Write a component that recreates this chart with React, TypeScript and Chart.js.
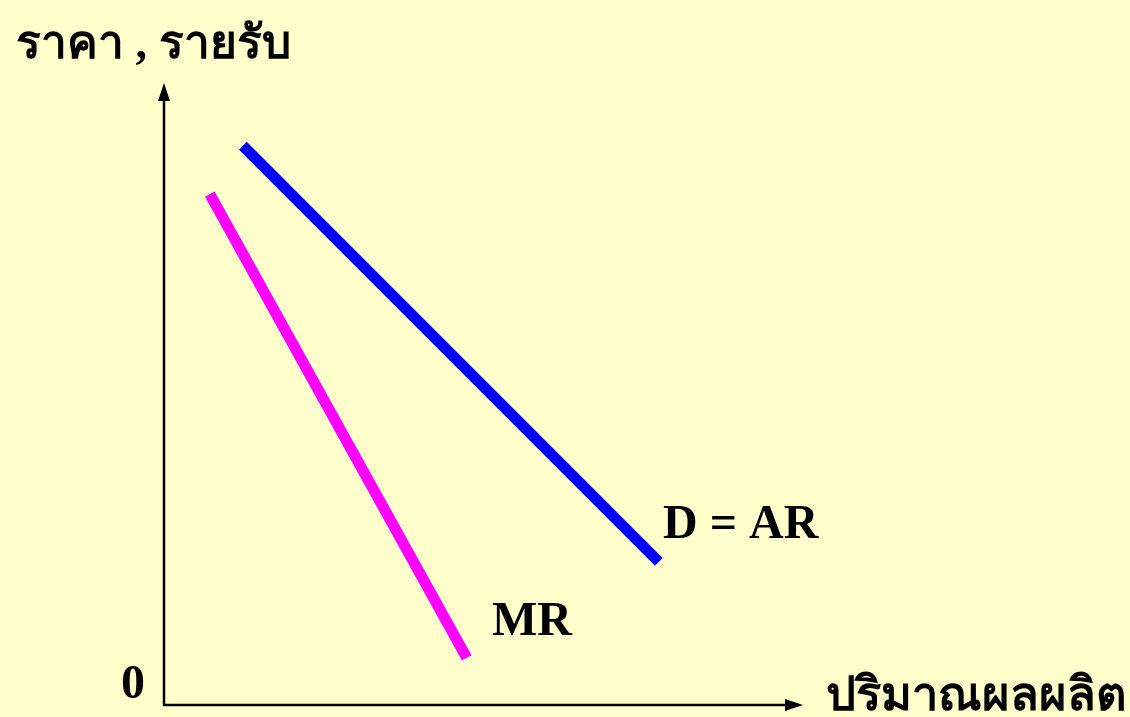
import React, { useEffect, useRef } from "react";
import { Chart, registerables } from "chart.js";

Chart.register(...registerables);

const demandX = [12.4, 77.8];
const demandY = [90.2, 23.1];
const mrX = [7.2, 47.6];
const mrY = [82.4, 7.6];

const titleY = "ราคา , รายรับ";
const titleX = "ปริมาณผลผลิต";
const originLabel = "0";
const demandLabel = "D = AR";
const mrLabel = "MR";

const BG = "#FFFFCC";

const decorPlugin = {
  id: "decor",
  beforeDraw(chart: any) {
    const ctx = chart.ctx;
    ctx.save();
    ctx.fillStyle = BG;
    ctx.fillRect(0, 0, chart.width, chart.height);
    ctx.restore();
  },
  afterDatasetsDraw(chart: any) {
    const ctx = chart.ctx;
    const xs = chart.scales.x;
    const ys = chart.scales.y;
    const x0 = xs.getPixelForValue(0);
    const y0 = ys.getPixelForValue(0);
    const xEnd = xs.getPixelForValue(100);
    const yEnd = ys.getPixelForValue(100);
    ctx.save();
    ctx.strokeStyle = "#000";
    ctx.fillStyle = "#000";
    ctx.lineWidth = 2.5;
    ctx.beginPath();
    ctx.moveTo(x0, y0 + 1);
    ctx.lineTo(x0, yEnd + 10);
    ctx.moveTo(x0 - 1, y0);
    ctx.lineTo(xEnd - 10, y0);
    ctx.stroke();
    // arrow heads
    ctx.beginPath();
    ctx.moveTo(x0, yEnd - 2);
    ctx.lineTo(x0 - 6, yEnd + 16);
    ctx.lineTo(x0 + 6, yEnd + 16);
    ctx.closePath();
    ctx.fill();
    ctx.beginPath();
    ctx.moveTo(xEnd + 3, y0);
    ctx.lineTo(xEnd - 15, y0 - 6);
    ctx.lineTo(xEnd - 15, y0 + 6);
    ctx.closePath();
    ctx.fill();

    ctx.textAlign = "left";
    ctx.textBaseline = "alphabetic";
    ctx.font = "bold 48px 'Liberation Serif', 'Times New Roman', serif";
    ctx.fillText(originLabel, 121, 698);
    ctx.fillText(demandLabel, 663, 538);
    ctx.fillText(mrLabel, 492, 635);
    ctx.font = "bold 46px 'Liberation Serif', 'Noto Sans', serif";
    ctx.fillText(titleY, 16, 58);
    ctx.font = "bold 47px 'Liberation Serif', 'Noto Sans', serif";
    ctx.fillText(titleX, 826, 710);
    ctx.restore();
  },
};

export default function App() {
  const ref = useRef<HTMLCanvasElement | null>(null);
  useEffect(() => {
    document.body.style.margin = "0";
    const canvas = ref.current!;
    const chart = new Chart(canvas, {
      type: "line",
      data: {
        datasets: [
          {
            label: "D = AR",
            data: demandX.map((x, i) => ({ x, y: demandY[i] })),
            borderColor: "#0000FF",
            borderWidth: 11,
            borderCapStyle: "butt",
            pointRadius: 0,
            fill: false,
          },
          {
            label: "MR",
            data: mrX.map((x, i) => ({ x, y: mrY[i] })),
            borderColor: "#FF00FF",
            borderWidth: 11,
            borderCapStyle: "butt",
            pointRadius: 0,
            fill: false,
          },
        ],
      },
      options: {
        animation: false,
        responsive: false,
        maintainAspectRatio: false,
        layout: { padding: { left: 164, right: 330, top: 85, bottom: 12 } },
        plugins: { legend: { display: false }, tooltip: { enabled: false } },
        scales: {
          x: { type: "linear", min: 0, max: 100, display: false },
          y: { type: "linear", min: 0, max: 100, display: false },
        },
      },
      plugins: [decorPlugin],
    });
    return () => chart.destroy();
  }, []);
  return (
    <div style={{ position: "fixed", left: 0, top: 0, width: 1130, height: 717, background: BG }}>
      <canvas ref={ref} width={1130} height={717} style={{ display: "block" }} />
    </div>
  );
}
